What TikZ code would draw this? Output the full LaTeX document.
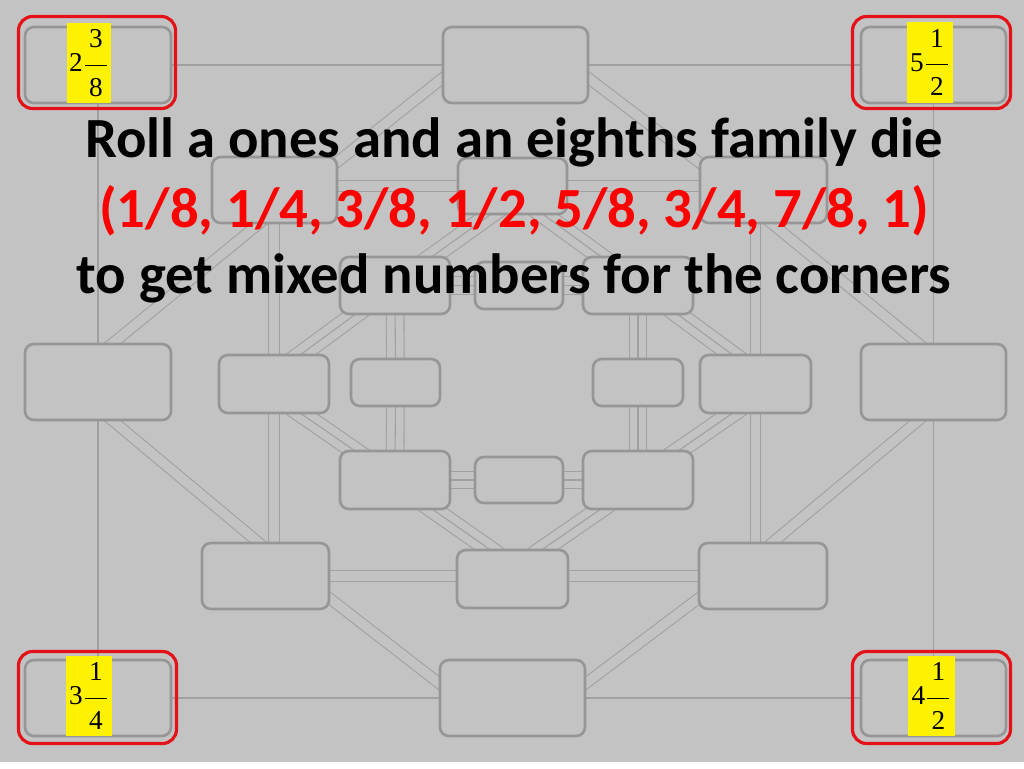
\documentclass[tikz,border=0pt]{standalone}
\usepackage{amsmath}
\usepackage{fontspec}
\newfontfamily\calibfont{Carlito}
\newfontfamily\timesfont{Liberation Serif}
\usetikzlibrary{backgrounds}

\definecolor{slidebg}{RGB}{195,195,195}
\definecolor{boxgray}{RGB}{150,150,150}
\definecolor{wiregray}{RGB}{160,160,160}
\definecolor{pickred}{RGB}{228,18,24}

% mixed number: whole, numerator, denominator
\newcommand{\mixnum}[3]{{\timesfont\fontsize{15.5}{18}\selectfont
  #1$\dfrac{\,\mbox{#2}\rule[-8pt]{0pt}{8pt}\,}{\,\rule{0pt}{15.5pt}\mbox{#3}\,}$}}

\begin{document}
\begin{tikzpicture}[
    x=0.02cm, y=-0.02cm,
    every node/.style={outer sep=0pt},
    cell/.style 2 args={draw=boxgray, line width=1.5pt, rounded corners=5pt, fill=slidebg,
        inner sep=0pt, minimum width=#1*0.02cm, minimum height=#2*0.02cm},
    wire/.style={draw=wiregray, line width=0.6pt},
    wire2/.style={draw=wiregray, line width=0.6pt, double=slidebg, double distance=5.4pt,
        shorten <=-6pt, shorten >=-6pt},
    wire3/.style={draw=wiregray, line width=0.6pt, shorten <=-6pt, shorten >=-6pt,
        preaction={draw=wiregray, line width=10.6pt},
        preaction={draw=slidebg, line width=9.4pt}},
    pick/.style 2 args={draw=pickred, line width=1.8pt, rounded corners=8pt,
        minimum width=#1*0.02cm, minimum height=#2*0.02cm},
    hilite/.style 2 args={fill=yellow, inner sep=0pt,
        minimum width=#1*0.02cm, minimum height=#2*0.02cm},
    title/.style={font=\calibfont\bfseries\fontsize{32.3}{38}\selectfont, anchor=base}
]
\useasboundingbox (0,0) rectangle (1024,768);

% Outer ring
\node[cell={146}{76}] (c1) at (98,65) {};
\node[cell={145}{76}] (mT) at (515.5,65) {};
\node[cell={145}{76}] (c2) at (933.5,65) {};
\node[cell={146}{76}] (mL) at (98,382) {};
\node[cell={145}{76}] (mR) at (933.5,382) {};
\node[cell={146}{76}] (c3) at (98,698) {};
\node[cell={145}{76}] (mB) at (512.5,698) {};
\node[cell={145}{76}] (c4) at (933.5,698) {};

% Middle ring
\node[cell={125}{66}] (UL2) at (274.5,190) {};
\node[cell={109}{56}] (top2) at (512.5,186) {};
\node[cell={127}{66}] (UR2) at (763.5,190) {};
\node[cell={110}{58}] (L2) at (274,384) {};
\node[cell={111}{58}] (R2) at (755.5,384) {};
\node[cell={127}{66}] (LL2) at (265.5,576) {};
\node[cell={111}{58}] (bot2) at (512.5,579) {};
\node[cell={128}{66}] (LR2) at (763,576) {};

% Inner ring
\node[cell={110}{57}] (UL3) at (395,285.5) {};
\node[cell={88}{47}] (top3) at (519,285.5) {};
\node[cell={110}{57}] (UR3) at (638,285.5) {};
\node[cell={89}{47}] (L3) at (395.5,382.5) {};
\node[cell={90}{47}] (R3) at (638,382.5) {};
\node[cell={110}{58}] (LL3) at (395,480) {};
\node[cell={88}{46}] (bot3) at (519,480) {};
\node[cell={110}{58}] (LR3) at (638,480) {};

% Corners: red frame, yellow mixed number
\node[pick={157}{92}] (p1) at (97,62.5) {};
\node[pick={158}{92}] (p2) at (931.5,62.5) {};
\node[pick={158}{92}] (p3) at (97.5,697.5) {};
\node[pick={158}{92}] (p4) at (931.5,697.5) {};
\node[hilite={44}{80}] (n1) at (89,63) {\mixnum{2}{3}{8}};
\node[hilite={46}{81}] (n2) at (930,62.5) {\mixnum{5}{1}{2}};
\node[hilite={46}{80}] (n3) at (89,696) {\mixnum{3}{1}{4}};
\node[hilite={47}{80}] (n4) at (931.5,696) {\mixnum{4}{1}{2}};

% Title
\node[title] (t1) at (514,157) {Roll a ones and an eighths family die};
\node[title, text=red] (t2) at (514,227) {(1/8, 1/4, 3/8, 1/2, 5/8, 3/4, 7/8, 1)};
\node[title] (t3) at (514,293) {to get mixed numbers for the corners};

\begin{pgfonlayer}{background}
% Slide
\fill[white] (0,0) rectangle (1024,768);
\fill[slidebg] (0,0) rectangle (1024,762);

% Outer square, single wires
\draw[wire] (c1) -- (mT);
\draw[wire] (mT) -- (c2);
\draw[wire] (c2) -- (mR);
\draw[wire] (mR) -- (c4);
\draw[wire] (c4) -- (mB);
\draw[wire] (mB) -- (c3);
\draw[wire] (c3) -- (mL);
\draw[wire] (mL) -- (c1);

% Outer diamond, double wires
\draw[wire2] (mT.190) -- (UL2.24);
\draw[wire2] (UL2.246) -- (mL.70);
\draw[wire2] (mL.290) -- (LL2.101);
\draw[wire2] (LL2.341) -- (mB.169);
\draw[wire2] (mB.11) -- (LR2.199);
\draw[wire2] (LR2.75) -- (mR.249);
\draw[wire2] (mR.111) -- (UR2.283);
\draw[wire2] (UR2.157) -- (mT.350);

% Middle ring, double wires
\draw[wire2] (UL2.east |- top2) -- (top2);
\draw[wire2] (top2) -- (UR2.west |- top2);
\draw[wire2] (R2) -- (R2 |- UR2.south);
\draw[wire2] (R2) -- (R2 |- LR2.north);
\draw[wire2] (bot2.east |- LR2) -- (LR2);
\draw[wire2] (LL2) -- (LL2 -| bot2.west);
\draw[wire2] (L2) -- (L2 |- LL2.north);
\draw[wire2] (L2) -- (L2 |- UL2.south);

% Middle diamond, triple wires
\draw[wire3] (top2.233) -- (UL3.38);
\draw[wire3] (UL3.216) -- (L2.48);
\draw[wire3] (L2.312) -- (LL3.144);
\draw[wire3] (LL3.322) -- (bot2.127);
\draw[wire3] (bot2.45) -- (LR3.218);
\draw[wire3] (LR3.36) -- (R2.232);
\draw[wire3] (R2.128) -- (UR3.324);
\draw[wire3] (UR3.142) -- (top2.317);

% Inner ring, triple wires
\draw[wire3] (UL3) -- (top3);
\draw[wire3] (top3) -- (UR3);
\draw[wire3] (UR3) -- (R3);
\draw[wire3] (R3) -- (LR3);
\draw[wire3] (LR3) -- (bot3);
\draw[wire3] (bot3) -- (LL3);
\draw[wire3] (LL3) -- (L3);
\draw[wire3] (L3) -- (UL3);
\end{pgfonlayer}
\end{tikzpicture}
\end{document}
